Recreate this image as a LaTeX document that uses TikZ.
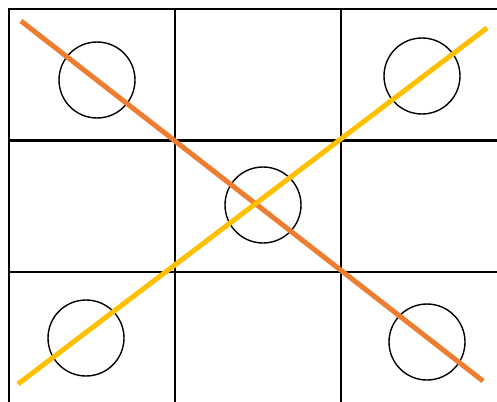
\documentclass[tikz,border=0pt]{standalone}
\usepackage{xcolor}
\usepackage{tikz}
\usetikzlibrary{positioning}
\definecolor{stroke orange}{RGB}{237,125,49}
\definecolor{stroke yellow}{RGB}{255,192,0}

\begin{document}
\begin{tikzpicture}[
    x=1pt, y=-1pt,
    cell/.style={draw=black, line width=1.4pt},
    ring/.style={circle, draw=black, line width=1.4pt, minimum size=76pt, inner sep=0pt},
    slash/.style={line width=5pt},
]
\useasboundingbox (0,0) rectangle (497,401);
\clip (0,0) rectangle (497,401);
% grid
\foreach \c in {9,175,341} {
  \foreach \r in {9,141,272} {
    \draw[cell] (\c,\r) rectangle ++(166,131);
  }
}
% marks
\node[ring] (ul) at (97,80)  {};
\node[ring] (ur) at (422,76) {};
\node[ring] (mid) at (263,205) {};
\node[ring] (ll) at (86,338) {};
\node[ring] (lr) at (427,342) {};
% crossing strokes
\coordinate (o1) at (21,21);
\coordinate (o2) at (483,381);
\coordinate (y1) at (18,384);
\coordinate (y2) at (487,28);
\draw[slash, stroke orange] (o1) -- (o2);
\draw[slash, stroke yellow] (y1) -- (y2);
\end{tikzpicture}
\end{document}
